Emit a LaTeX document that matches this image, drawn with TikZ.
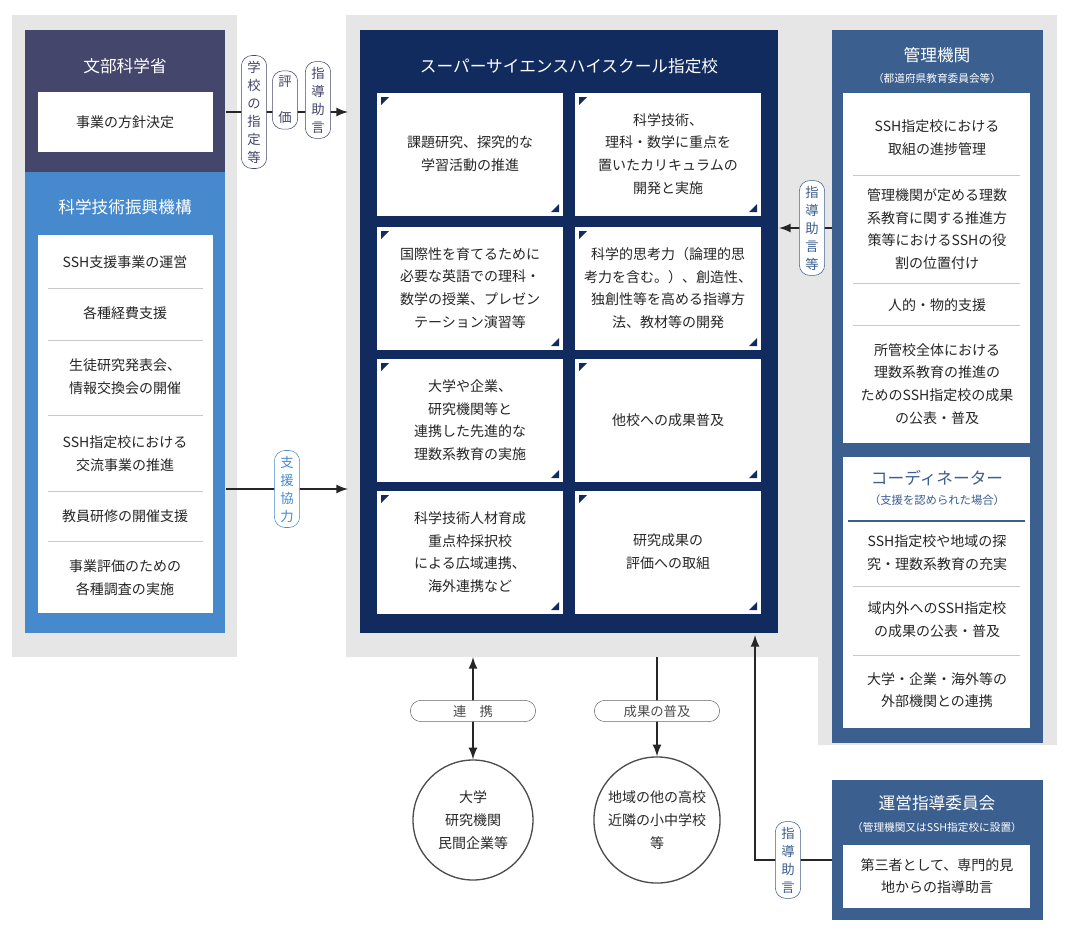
\documentclass[tikz,border=0pt]{standalone}
\usepackage{fontspec}
\setmainfont{Noto Sans CJK JP}
\usetikzlibrary{positioning}
\definecolor{panelgray}{HTML}{E6E6E7}
\definecolor{mextblue}{HTML}{45466C}
\definecolor{jstblue}{HTML}{4689CC}
\definecolor{sshnavy}{HTML}{112B5E}
\definecolor{boardblue}{HTML}{3B5F8E}
\definecolor{sepgray}{HTML}{C8C8C8}
\tikzset{
  txt/.style={font=\fontsize{10.5}{17}\selectfont,align=center,text=black!85},
  title/.style={font=\fontsize{12.5}{15}\selectfont,text=white,align=center},
  sub/.style={font=\fontsize{8}{10}\selectfont,text=white,align=center},
  pill/.style={draw=#1,fill=white,rounded corners=8pt,inner sep=4pt,font=\fontsize{10}{13.5}\selectfont,align=center,text=#1,minimum width=19pt},
  hpill/.style={draw=black!60,fill=white,rounded corners=8pt,font=\fontsize{10}{11}\selectfont,text=black!70,minimum width=94pt,minimum height=16pt},
  arr/.style={-latex,line width=2pt,black!85},
  circ/.style={circle,draw=black!70,line width=1pt,minimum size=90pt,txt},
}
\begin{document}
\begin{tikzpicture}[x=0.75pt,y=-0.75pt]
\useasboundingbox (0,0) rectangle (1078,950);
% gray panels
\fill[panelgray] (12,15) rectangle (237,657);
\fill[panelgray] (346,15) -- (1057,15) -- (1057,745) -- (818,745) -- (818,657) -- (346,657) -- cycle;
% left column
\fill[mextblue] (25,30) rectangle (225,172);
\node[title] (mext) at (125,66) {文部科学省};
\fill[white] (38,92) rectangle (213,152);
\node[txt] (policy) at (125,122) {事業の方針決定};
\fill[jstblue] (25,172) rectangle (225,633);
\node[title] (jst) at (125,207) {科学技術振興機構};
\fill[white] (38,235) rectangle (213,613);
\foreach \y in {288,340,415,491,541} \draw[sepgray] (48,\y) -- (203,\y);
\node[txt] at (125,262) {SSH支援事業の運営};
\node[txt] at (125,313) {各種経費支援};
\node[txt] at (125,377) {生徒研究発表会、\\情報交換会の開催};
\node[txt] at (125,454) {SSH指定校における\\交流事業の推進};
\node[txt] at (125,516) {教員研修の開催支援};
\node[txt] at (125,578) {事業評価のための\\各種調査の実施};
% center
\fill[sshnavy] (360,30) rectangle (778,633);
\node[title] (ssh) at (569,66) {スーパーサイエンスハイスクール指定校};
\foreach \cx/\cy/\t in {
  377/93/{課題研究、探究的な\\学習活動の推進},
  575/93/{科学技術、\\理科・数学に重点を\\置いたカリキュラムの\\開発と実施},
  377/227/{国際性を育てるために\\必要な英語での理科・\\数学の授業、プレゼン\\テーション演習等},
  575/227/{科学的思考力（論理的思\\考力を含む。）、創造性、\\独創性等を高める指導方\\法、教材等の開発},
  377/359/{大学や企業、\\研究機関等と\\連携した先進的な\\理数系教育の実施},
  575/359/{他校への成果普及},
  377/491/{科学技術人材育成\\重点枠採択校\\による広域連携、\\海外連携など},
  575/491/{研究成果の\\評価への取組}}{
  \fill[white] (\cx,\cy) rectangle ++(186,123);
  \fill[sshnavy] (\cx+4,\cy+4) -- ++(8,0) -- ++(-8,8) -- cycle;
  \fill[sshnavy] (\cx+182,\cy+119) -- ++(-8,0) -- ++(8,-8) -- cycle;
  \node[txt] at (\cx+93,\cy+61) {\t};
}
% right column
\fill[boardblue] (832,30) rectangle (1043,743);
\node[title] (board) at (937,55) {管理機関};
\node[sub] at (937,78) {（都道府県教育委員会等）};
\fill[white] (843,93) rectangle (1030,443);
\foreach \y in {175,283,325} \draw[sepgray] (853,\y) -- (1020,\y);
\node[txt] at (937,138) {SSH指定校における\\取組の進捗管理};
\node[txt] at (937,229) {管理機関が定める理数\\系教育に関する推進方\\策等におけるSSHの役\\割の位置付け};
\node[txt] at (937,305) {人的・物的支援};
\node[txt] at (937,384) {所管校全体における\\理数系教育の推進の\\ためのSSH指定校の成果\\の公表・普及};
\fill[white] (843,457) rectangle (1030,728);
\node[font=\fontsize{12.5}{15}\selectfont,text=boardblue] (coord) at (937,478) {コーディネーター};
\node[font=\fontsize{8.5}{10}\selectfont,text=boardblue] at (937,500) {（支援を認められた場合）};
\draw[boardblue,line width=1pt] (848,521) -- (1025,521);
\foreach \y in {586,655} \draw[sepgray] (853,\y) -- (1020,\y);
\node[txt] at (937,553) {SSH指定校や地域の探\\究・理数系教育の充実};
\node[txt] at (937,620) {域内外へのSSH指定校\\の成果の公表・普及};
\node[txt] at (937,690) {大学・企業・海外等の\\外部機関との連携};
% steering committee
\fill[boardblue] (832,780) rectangle (1043,920);
\node[title] (steer) at (937,803) {運営指導委員会};
\node[sub] at (937,827) {（管理機関又はSSH指定校に設置）};
\fill[white] (843,845) rectangle (1030,908);
\node[txt] (third) at (937,876) {第三者として、専門的見\\地からの指導助言};
% connectors
\coordinate (mextout) at (226,112);
\coordinate (sshin) at (348,112);
\draw[arr] (mextout) -- (sshin);
\node[pill=mextblue] at (254,112) {学\\校\\の\\指\\定\\等};
\node[pill=mextblue] at (285,100) {評\\\\価};
\node[pill=mextblue] at (318,100) {指\\導\\助\\言};
\coordinate (jstout) at (226,489);
\coordinate (sshin2) at (348,489);
\draw[arr] (jstout) -- (sshin2);
\node[pill=jstblue] at (287,489) {支\\援\\協\\力};
\coordinate (boardout) at (832,228);
\coordinate (sshin3) at (779,228);
\draw[arr] (boardout) -- (sshin3);
\node[pill=boardblue] at (812,228) {指\\導\\助\\言\\等};
% bottom
\node[circ] (univ) at (473,820) {大学\\研究機関\\民間企業等};
\node[circ] (local) at (657,820) {地域の他の高校\\近隣の小中学校\\等};
\coordinate (sshb1) at (473,657);
\coordinate (sshb2) at (657,657);
\draw[arr,latex-latex] (sshb1) -- (univ);
\draw[arr] (sshb2) -- (local);
\node[hpill] at (473,711) {連　携};
\node[hpill] at (657,711) {成果の普及};
\coordinate (bend) at (755,860);
\coordinate (sshb3) at (755,635);
\draw[arr] (832,860) -- (bend) -- (sshb3);
\node[pill=boardblue] at (788,860) {指\\導\\助\\言};
\end{tikzpicture}
\end{document}
